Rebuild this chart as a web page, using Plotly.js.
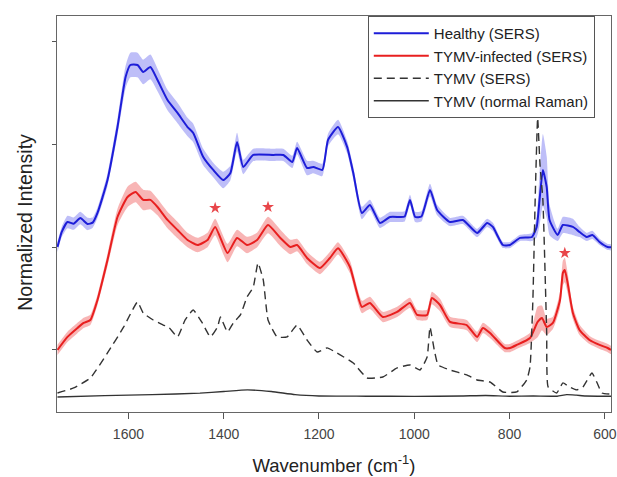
<!DOCTYPE html>
<html>
<head>
<meta charset="utf-8">
<script src="https://cdn.plot.ly/plotly-3.0.1.min.js"></script>
<style>html,body{margin:0;padding:0;background:#fff;}#chart{width:617px;height:477px;}</style>
</head>
<body>
<div id="chart"></div>
<script>
// Healthy (SERS) mean spectrum and band half-width
const blueX = [1749,1740,1728,1715,1701,1686,1675,1665,1644,1623,1606,1596,1581,1569,1554,1539,1518,1497,1476,1464,1443,1422,1401,1386,1372,1359,1338,1296,1275,1256,1246,1225,1212,1193,1181,1160,1141,1128,1110,1093,1072,1051,1030,1020,1009,998,985,967,952,925,898,868,847,835,814,799,778,753,743,737,730,722,716,699,688,667,653,638,626,611,594,587];
const blueY = [2.003,2.15,2.246,2.23,2.285,2.227,2.24,2.334,2.655,3.171,3.658,3.775,3.775,3.707,3.756,3.629,3.434,3.308,3.171,3.113,2.879,2.753,2.655,2.723,3.025,2.782,2.899,2.899,2.899,2.831,2.967,2.772,2.782,2.753,3.045,3.171,2.977,2.723,2.334,2.412,2.237,2.295,2.295,2.30,2.461,2.295,2.30,2.558,2.363,2.246,2.266,2.139,2.237,2.198,2.022,2.022,2.091,2.100,2.198,2.461,2.753,2.587,2.266,2.120,2.217,2.198,2.149,2.100,2.120,2.052,2.003,2.0];
const blueSd = [.05,.05,.06,.06,.06,.06,.05,.05,.06,.08,.11,.12,.12,.12,.12,.11,.10,.10,.09,.09,.08,.07,.08,.07,.09,.07,.06,.06,.06,.06,.06,.07,.06,.06,.06,.07,.06,.06,.06,.05,.05,.05,.05,.05,.05,.05,.05,.06,.05,.04,.04,.04,.04,.04,.03,.03,.03,.04,.10,.25,.35,.30,.15,.06,.08,.08,.05,.04,.04,.03,.03,.03];

// TYMV-infected (SERS)
const redX = [1749,1728,1707,1694,1680,1665,1644,1623,1602,1585,1569,1554,1539,1518,1497,1476,1455,1434,1418,1392,1372,1351,1330,1307,1281,1260,1246,1225,1198,1177,1160,1135,1110,1093,1066,1036,1009,994,973,963,946,925,890,868,856,841,810,799,785,757,741,732,722,709,694,688,684,678,667,653,632,611,594,587];
const redY = [1.0,1.127,1.214,1.263,1.292,1.487,1.876,2.295,2.49,2.538,2.461,2.461,2.392,2.266,2.168,2.071,2.022,2.071,2.198,1.944,2.091,2.022,2.071,2.217,2.091,2.003,2.022,1.896,1.798,1.896,1.99,1.808,1.419,1.458,1.321,1.37,1.458,1.341,1.341,1.506,1.438,1.273,1.243,1.127,1.214,1.166,1.019,1.019,1.049,1.117,1.273,1.312,1.224,1.263,1.487,1.75,1.779,1.652,1.36,1.195,1.097,1.049,1.019,1.0];
const redSd = [.05,.05,.05,.05,.05,.05,.06,.08,.10,.10,.10,.09,.08,.08,.08,.07,.07,.07,.08,.09,.08,.08,.07,.08,.08,.07,.06,.06,.06,.06,.06,.06,.06,.06,.05,.05,.05,.05,.05,.06,.06,.05,.05,.05,.05,.05,.04,.04,.04,.05,.15,.12,.08,.06,.08,.12,.12,.10,.06,.05,.04,.04,.04,.04];

// TYMV (SERS)
const dashX = [1749,1715,1680,1644,1610,1581,1569,1548,1527,1516,1497,1481,1464,1445,1428,1413,1407,1392,1380,1365,1351,1338,1328,1317,1307,1288,1267,1246,1225,1204,1183,1162,1128,1099,1066,1036,1009,988,973,967,958,950,925,890,868,841,814,785,764,757,751,746,741,736,730,722,719,701,688,674,659,646,627,617,606,587];
const dashY = [0.581,0.63,0.727,0.971,1.224,1.467,1.36,1.292,1.243,1.224,1.127,1.292,1.389,1.263,1.127,1.224,1.321,1.175,1.263,1.341,1.516,1.613,1.847,1.682,1.292,1.127,1.127,1.243,1.097,0.98,1.02,0.97,0.873,0.727,0.737,0.825,0.854,0.805,0.932,1.224,1.0,0.854,0.805,0.757,0.708,0.688,0.591,0.591,0.708,0.834,1.487,2.5,3.26,2.8,2.461,1.166,0.64,0.581,0.679,0.64,0.611,0.64,0.776,0.688,0.581,0.57];

// TYMV (normal Raman)
const ramanX = [1749,1650,1550,1450,1400,1350,1300,1250,1200,1100,1000,900,850,800,750,700,680,660,640,600,587];
const ramanY = [0.542,0.555,0.565,0.58,0.595,0.611,0.595,0.565,0.552,0.55,0.548,0.552,0.556,0.55,0.552,0.55,0.565,0.56,0.552,0.55,0.55];

// asterisks marking discriminating peaks
const starX = [1418,1307,684];
const starY = [2.383,2.392,1.944];

const xTicks = [1600,1400,1200,1000,800,600];
const yTicks = [1,2,3,4];

function band(x, y, sd, color) {
  const up = y.map((v,i)=>v+sd[i]);
  const lo = y.map((v,i)=>v-sd[i]);
  return {
    x: x.concat(x.slice().reverse()),
    y: up.concat(lo.slice().reverse()),
    type: 'scatter', mode: 'lines', fill: 'toself', fillcolor: color,
    line: {width: 0, shape: 'spline', smoothing: 0.5}, hoverinfo: 'skip', showlegend: false
  };
}

const FONT = 'Liberation Sans, Arial, Helvetica, sans-serif';
const traces = [
  band(blueX, blueY, blueSd, 'rgba(110,110,240,0.45)'),
  band(redX, redY, redSd, 'rgba(240,90,90,0.45)'),
  {x: blueX, y: blueY, type: 'scatter', mode: 'lines', name: 'Healthy (SERS)',
   line: {color: '#1d1dd8', width: 2, shape: 'spline', smoothing: 0.5}},
  {x: redX, y: redY, type: 'scatter', mode: 'lines', name: 'TYMV-infected (SERS)',
   line: {color: '#e81f1f', width: 2, shape: 'spline', smoothing: 0.5}},
  {x: dashX, y: dashY, type: 'scatter', mode: 'lines', name: 'TYMV (SERS)',
   line: {color: '#333333', width: 1.4, dash: '8px,5px', shape: 'spline', smoothing: 0.4}},
  {x: ramanX, y: ramanY, type: 'scatter', mode: 'lines', name: 'TYMV (normal Raman)',
   line: {color: '#333333', width: 1.4, shape: 'spline', smoothing: 0.5}},
  {x: starX, y: starY, type: 'scatter', mode: 'markers', showlegend: false,
   marker: {symbol: 'star', size: 9, color: '#e8464a'}}
];

const layout = {
  width: 617, height: 477,
  margin: {l: 57, r: 6, t: 16, b: 65},
  paper_bgcolor: '#ffffff', plot_bgcolor: '#ffffff',
  font: {family: FONT, color: '#333'},
  showlegend: true,
  legend: {x: 0.561, y: 1.0, xanchor: 'left', yanchor: 'top', itemwidth: 55,
           bgcolor: '#ffffff', bordercolor: '#555', borderwidth: 1,
           font: {family: FONT, size: 15, color: '#222'}},
  xaxis: {range: [1750, 587], tickvals: xTicks, ticks: 'outside', ticklen: 6, tickcolor: '#555',
          ticklabelstandoff: 3,
          showline: true, mirror: true, linecolor: '#666', linewidth: 1,
          showgrid: false, zeroline: false,
          tickfont: {family: FONT, size: 14, color: '#444'},
          title: {text: 'Wavenumber (cm<sup>-1</sup>)', font: {family: FONT, size: 18.5, color: '#222'}, standoff: 18}},
  yaxis: {range: [0.396, 4.252], tickvals: yTicks, showticklabels: false, ticks: 'outside', ticklen: 4, tickcolor: '#555',
          showline: true, mirror: true, linecolor: '#666', linewidth: 1,
          showgrid: false, zeroline: false},
  annotations: [{text: 'Normalized Intensity', xref: 'paper', yref: 'paper', x: -0.058, y: 0.48,
                 xanchor: 'center', yanchor: 'middle', textangle: -90, showarrow: false,
                 font: {family: FONT, size: 19.5, color: '#222'}}]
};

Plotly.newPlot('chart', traces, layout, {displayModeBar: false, staticPlot: true});
</script>
</body>
</html>
